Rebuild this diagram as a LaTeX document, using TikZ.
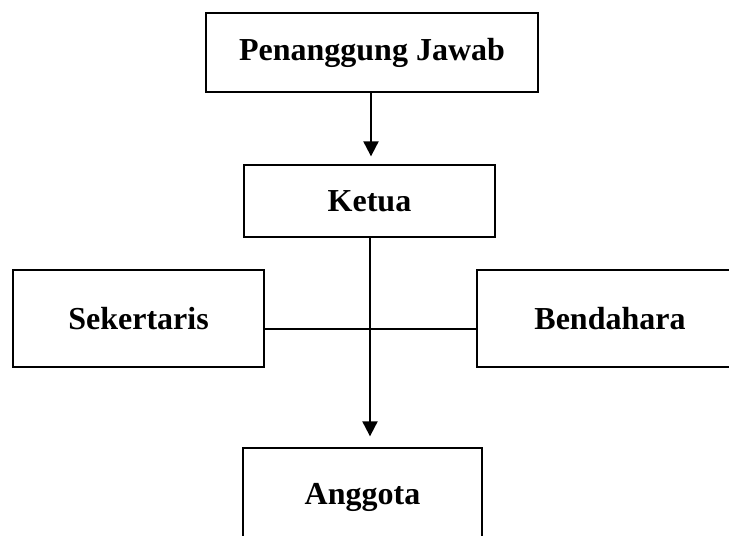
\documentclass[tikz,border=0pt]{standalone}
\usepackage{fontspec}
\setmainfont{Liberation Serif}
\usetikzlibrary{arrows.meta}

\begin{document}
\begin{tikzpicture}[x=1pt, y=-1pt,
    box/.style={draw, line width=1.3pt, inner sep=0pt, font=\fontsize{32}{38}\selectfont\bfseries},
    link/.style={line width=2pt},
    arrow/.style={link, -{Triangle[width=15pt, length=15pt]}}]
  \useasboundingbox (0, 0) rectangle (729, 536);
  \clip (0, 0) rectangle (729, 536);

  \node[box, minimum width=332, minimum height=79] (pj) at (372, 52.5) {Penanggung Jawab};
  \node[box, minimum width=251, minimum height=72] (ketua) at (369.5, 201) {Ketua};
  \node[box, minimum width=251, minimum height=97] (sek) at (138.5, 318.5) {Sekertaris};
  \node[box, minimum width=266, minimum height=97] (ben) at (610, 318.5) {Bendahara};
  \node[box, minimum width=239, minimum height=98] (ang) at (362.5, 497) {Anggota};

  \coordinate (mid) at (370, 329);

  \draw[arrow, shorten >=8pt] (pj.south -| 371, 0) -- (ketua.north -| 371, 0);
  \draw[arrow, shorten >=11pt] (ketua.south -| mid) -- (ang.north -| mid);
  \draw[link] (mid -| sek.east) -- (mid -| ben.west);
\end{tikzpicture}
\end{document}
